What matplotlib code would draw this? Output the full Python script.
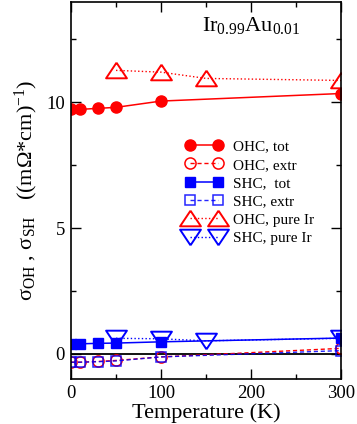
import matplotlib
matplotlib.use("Agg")
import matplotlib.pyplot as plt
from matplotlib.ticker import MultipleLocator

plt.rcParams["font.family"] = ["Liberation Serif", "DejaVu Serif"]
plt.rcParams["mathtext.fontset"] = "custom"
plt.rcParams["mathtext.rm"] = "Liberation Serif"
plt.rcParams["mathtext.it"] = "Liberation Serif:italic"

# Temperaturas (K)
temp = [0, 10, 30, 50, 100, 300]
temp_ir = [50, 100, 150, 300]

# Conductividades (mOhm*cm)^-1
ohc_tot = [9.72, 9.72, 9.76, 9.80, 10.05, 10.35]
ohc_extr = [-0.33, -0.33, -0.30, -0.26, -0.12, 0.22]
shc_tot = [0.40, 0.40, 0.42, 0.43, 0.48, 0.63]
shc_extr = [-0.33, -0.33, -0.31, -0.28, -0.12, 0.13]
ohc_ir = [11.27, 11.20, 10.95, 10.87]
shc_ir = [0.62, 0.60, 0.52, 0.62]

# triangulos achatados (como en xmgrace)
tri_up = [(0, 0.75), (-1, -0.75), (1, -0.75), (0, 0.75)]
tri_down = [(0, -0.75), (-1, 0.75), (1, 0.75), (0, -0.75)]

fig = plt.figure(figsize=(3.57, 4.24), dpi=100)
ax = fig.add_axes([0.199, 0.106, 0.756, 0.890])

ax.axhline(0, color="black", linewidth=1.3, zorder=1)

ax.plot(temp, ohc_tot, "-o", color="red", markersize=8, linewidth=1.1,
        label="OHC, tot")
ax.plot(temp, ohc_extr, "--o", color="red", markersize=8, linewidth=1.0,
        markerfacecolor="none", markeredgewidth=1.1, dashes=(3, 2),
        label="OHC, extr")
ax.plot(temp, shc_tot, "-s", color="blue", markersize=7, linewidth=1.1,
        label="SHC,  tot")
ax.plot(temp, shc_extr, "--s", color="blue", markersize=7, linewidth=1.0,
        markerfacecolor="none", markeredgewidth=1.1, dashes=(3, 2),
        alpha=0.85, label="SHC, extr")
ax.plot(temp_ir, ohc_ir, ":", marker=tri_up, color="red", markersize=15,
        linewidth=1.0, markerfacecolor="none", markeredgewidth=1.4,
        label="OHC, pure Ir")
ax.plot(temp_ir, shc_ir, ":", marker=tri_down, color="blue", markersize=15,
        linewidth=1.0, markerfacecolor="none", markeredgewidth=1.4,
        label="SHC, pure Ir")

ax.set_xlim(0, 300)
ax.set_ylim(-1, 14)
ax.xaxis.set_major_locator(MultipleLocator(100))
ax.xaxis.set_minor_locator(MultipleLocator(50))
ax.yaxis.set_major_locator(MultipleLocator(5))
ax.yaxis.set_minor_locator(MultipleLocator(2.5))
ax.tick_params(which="both", direction="in", top=True, right=True,
               labelsize=13.5, width=1.0)
ax.tick_params(which="major", length=7, pad=4.5)
ax.tick_params(which="minor", length=3.6)
for s in ax.spines.values():
    s.set_linewidth(1.2)

ax.set_xlabel("Temperature (K)", fontsize=16, labelpad=1)
ax.set_ylabel(r"σ$_{\mathrm{OH}}$ , σ$_{\mathrm{SH}}$   ((m$\Omega$*cm)$^{-1}$)",
              fontsize=16, labelpad=4)

ax.text(0.85, 0.965, r"Ir$_{0.99}$Au$_{0.01}$", transform=ax.transAxes,
        fontsize=16, ha="right", va="top")

ax.legend(loc="upper left", bbox_to_anchor=(0.424, 0.634), frameon=False,
          fontsize=11, numpoints=2, handlelength=2.4, handletextpad=0.7,
          labelspacing=0.3, borderpad=0, borderaxespad=0)

plt.savefig("out.png", dpi=100)
